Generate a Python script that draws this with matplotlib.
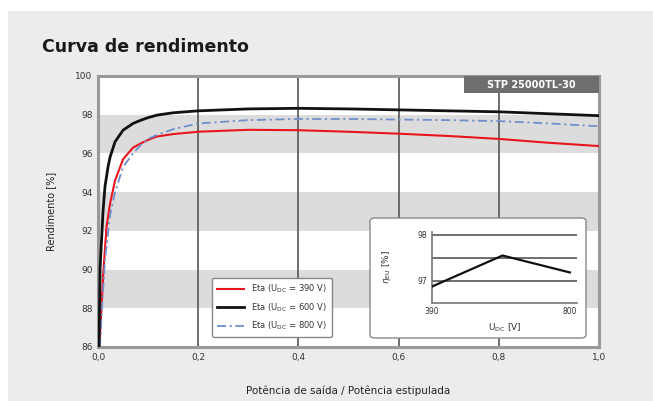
import matplotlib
matplotlib.use("Agg")
import matplotlib.pyplot as plt
from matplotlib.patches import Rectangle, FancyBboxPatch

# ---- data ----
x_390 = [0.002, 0.004, 0.011, 0.017, 0.024, 0.034, 0.05, 0.07, 0.084, 0.1, 0.117, 0.15, 0.2, 0.3, 0.4, 0.5, 0.6, 0.7, 0.8, 0.9, 1.0]
eta_390 = [86.0, 86.6, 90.0, 92.2, 93.4, 94.6, 95.7, 96.3, 96.5, 96.7, 96.87, 97.0, 97.12, 97.22, 97.2, 97.12, 97.02, 96.9, 96.75, 96.55, 96.38]

x_600 = [0.002, 0.004, 0.01, 0.014, 0.02, 0.024, 0.034, 0.05, 0.07, 0.084, 0.1, 0.118, 0.15, 0.2, 0.3, 0.4, 0.5, 0.6, 0.7, 0.8, 0.9, 1.0]
eta_600 = [86.0, 90.0, 93.0, 94.3, 95.3, 95.8, 96.6, 97.2, 97.55, 97.7, 97.85, 97.98, 98.1, 98.2, 98.3, 98.33, 98.3, 98.25, 98.2, 98.15, 98.05, 97.95]

x_800 = [0.004, 0.008, 0.014, 0.024, 0.034, 0.05, 0.07, 0.084, 0.1, 0.117, 0.15, 0.2, 0.3, 0.4, 0.5, 0.6, 0.7, 0.8, 0.9, 1.0]
eta_800 = [86.0, 88.0, 90.5, 92.8, 94.0, 95.3, 96.0, 96.4, 96.75, 96.95, 97.25, 97.55, 97.72, 97.78, 97.78, 97.75, 97.72, 97.67, 97.55, 97.4]

labels = [r"Eta (U$_{\mathregular{DC}}$ = 390 V)", r"Eta (U$_{\mathregular{DC}}$ = 600 V)", r"Eta (U$_{\mathregular{DC}}$ = 800 V)"]

x_ticks = [0.0, 0.2, 0.4, 0.6, 0.8, 1.0]
x_ticklabels = ["0,0", "0,2", "0,4", "0,6", "0,8", "1,0"]
y_ticks = [86, 88, 90, 92, 94, 96, 98, 100]

inset_u = [390, 600, 800]
inset_eta = [96.87, 97.55, 97.18]

title = "Curva de rendimento"
model = "STP 25000TL-30"

# ---- figure ----
fig = plt.figure(figsize=(6.53, 4.01), dpi=100)
fig.patch.set_facecolor("white")
fig.patches.append(Rectangle((8/653, 0), 1, 1 - 11/401, transform=fig.transFigure,
                             facecolor="#ececec", edgecolor="none", zorder=-10))

fig.text(42/653, 1 - 52/401, title, fontsize=12.5, color="#1a1a1a", fontweight="bold",
         ha="left", va="baseline")

ax = fig.add_axes([98/653, 1 - 347/401, 501/653, 271/401])
ax.set_facecolor("white")
for lo, hi in [(96, 98), (92, 94), (88, 90)]:
    ax.axhspan(lo, hi, color="#dcdcdc", zorder=0, lw=0)
for xv in [0.2, 0.4, 0.6, 0.8]:
    ax.axvline(xv, color="#555555", lw=1.2, zorder=1)

ax.plot(x_390, eta_390, color="#e8141e", lw=1.5, label=labels[0], zorder=3)
ax.plot(x_600, eta_600, color="#111111", lw=2.0, label=labels[1], zorder=4)
ax.plot(x_800, eta_800, color="#7090cc", lw=1.3, dashes=(5, 2, 1.2, 2), label=labels[2], zorder=3)

ax.set_xlim(0, 1)
ax.set_ylim(86, 100)
ax.set_xticks(x_ticks)
ax.set_xticklabels(x_ticklabels)
ax.set_yticks(y_ticks)
ax.tick_params(length=0, labelsize=6.5, labelcolor="#333333", pad=4)
for s in ax.spines.values():
    s.set_color("#999999")
    s.set_linewidth(2.2)

ax.set_ylabel("Rendimento [%]", fontsize=7, color="#222222", labelpad=14)
ax.set_xlabel("Potência de saída / Potência estipulada", fontsize=7.5, color="#222222", labelpad=17)

leg = ax.legend(loc="lower left", bbox_to_anchor=(0.228, 0.037), borderaxespad=0,
                fontsize=6, frameon=True, fancybox=True, handlelength=3.2,
                labelspacing=0.7, borderpad=0.6, labelcolor="#333333")
leg.get_frame().set_edgecolor("#888888")
leg.get_frame().set_linewidth(1.0)
leg.get_frame().set_alpha(1)

# model tag
ax.add_patch(Rectangle((0.73, 0.937), 0.27, 0.063, transform=ax.transAxes,
                       facecolor="#6e6e6e", edgecolor="none", zorder=6, clip_on=False))
ax.text(0.865, 0.9685, model, transform=ax.transAxes, color="white", fontsize=7,
        fontweight="bold", ha="center", va="center", zorder=7)

# inset frame
fig.patches.append(FancyBboxPatch((370/653, 1 - 338/401), 216/653, 120/401,
                                  boxstyle="round,pad=0,rounding_size=0.008",
                                  transform=fig.transFigure, facecolor="white",
                                  edgecolor="#888888", lw=1.0, zorder=5))

iax = fig.add_axes([431.7/653, 1 - 302.7/401, 145.3/653, 71/401], zorder=6)
iax.set_facecolor("none")
iax.set_xlim(390, 821)
iax.set_ylim(96.52, 98.07)
for yv in [97.0, 97.5, 98.0]:
    iax.axhline(yv, color="#555555", lw=1.2, zorder=1)
iax.plot(inset_u, inset_eta, color="#111111", lw=1.6, zorder=3)
iax.set_xticks([390, 800])
iax.set_yticks([97, 98])
iax.tick_params(length=0, labelsize=5.5, labelcolor="#333333", pad=3)
for name, s in iax.spines.items():
    if name in ("left", "bottom"):
        s.set_color("#777777")
        s.set_linewidth(1.2)
    else:
        s.set_visible(False)
iax.set_xlabel(r"U$_{\mathregular{DC}}$ [V]", fontsize=6.5, color="#333333", labelpad=4)
iax.set_ylabel(r"$\eta_{\mathregular{EU}}$ [%]", fontsize=6.5, color="#333333", labelpad=18)

fig.savefig("out.png", dpi=100)
